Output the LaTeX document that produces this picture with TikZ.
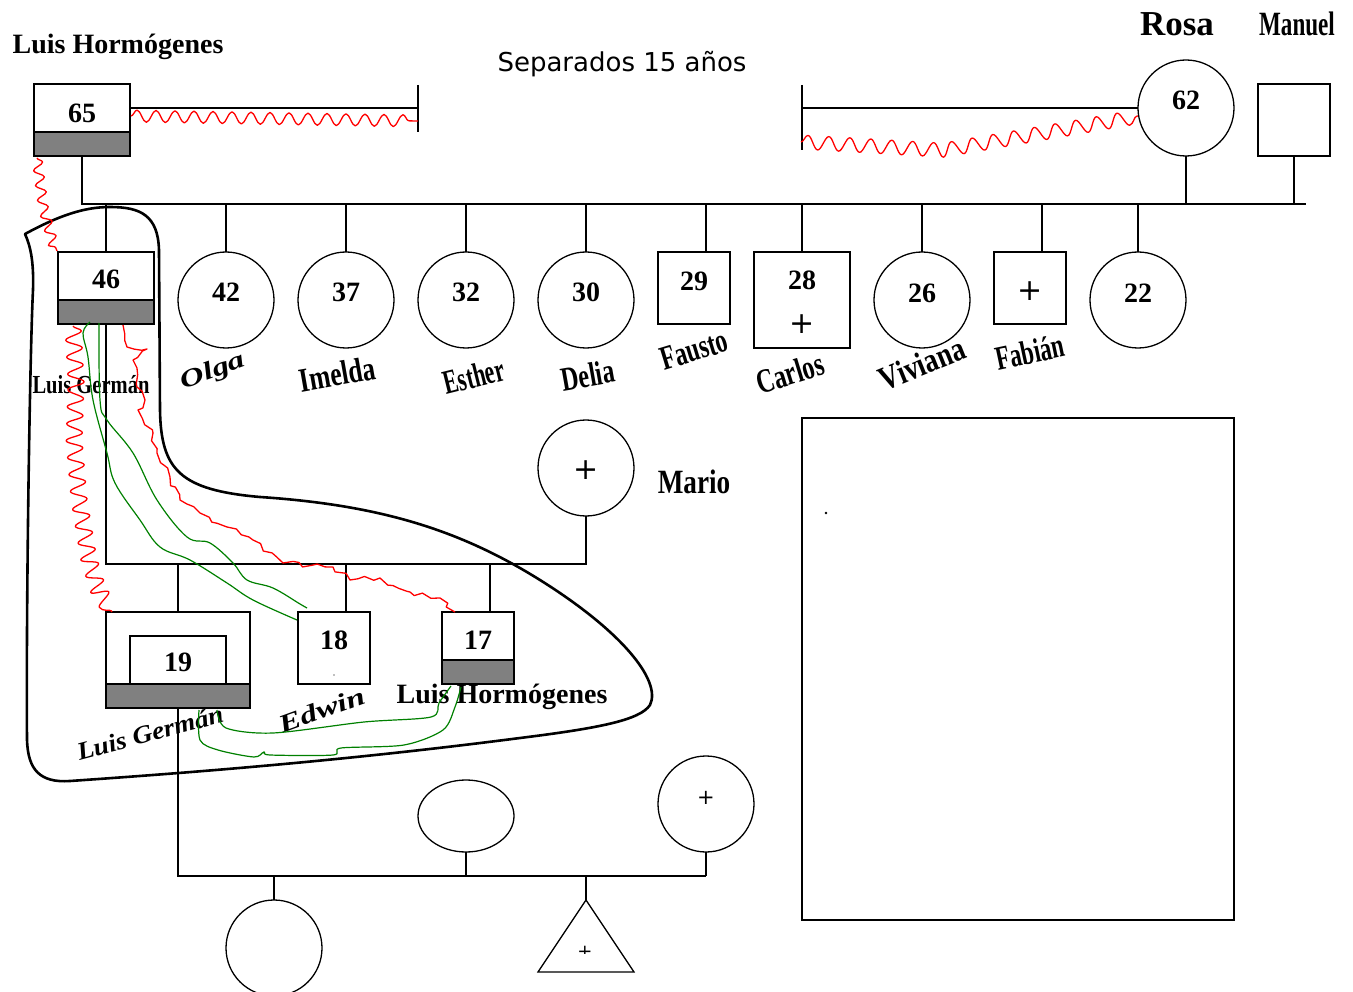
\documentclass[tikz,border=0pt]{standalone}
\usepackage{fontspec}
\setmainfont{Liberation Serif}
\newfontfamily\sansf{DejaVu Sans}
\usetikzlibrary{shapes.geometric,decorations.pathmorphing}
\begin{document}
\begin{tikzpicture}[x=1pt,y=-1pt,
  ln/.style={line width=1.3pt},
  box/.style={draw, line width=1.3pt, rectangle, inner sep=0pt, outer sep=0pt},
  circ/.style={draw, line width=1.3pt, circle, inner sep=0pt, outer sep=0pt, minimum size=96pt},
  num/.style={font=\fontsize{28}{30}\selectfont\bfseries, inner sep=0pt},
  pl/.style={font=\fontsize{30}{32}\selectfont\sansf, inner sep=0pt},
  lbl/.style={font=\fontsize{28}{30}\selectfont\bfseries, inner sep=0pt, anchor=base},
  wa/.style={font=\fontsize{34}{36}\selectfont\bfseries, inner sep=0pt},
  wd/.style={font=\fontsize{25}{27}\selectfont\bfseries\itshape, inner sep=0pt},
  grayfill/.style={fill=gray, draw, line width=1.3pt},
  rline/.style={red, line width=1.3pt, line join=round, decorate, decoration={random steps, segment length=7pt, amplitude=3.5pt}},
  rwave/.style={red, line width=1.3pt, line join=round, decorate, decoration={snake, segment length=19pt, amplitude=6pt}},
  gline/.style={green!50!black, line width=1.2pt}
]
\pgfmathsetseed{11}
\useasboundingbox (0,0) rectangle (1353,992);

% ---------- top generation ----------
\node[box, minimum width=96pt, minimum height=72pt] (b65) at (82,120) {};
\draw[grayfill] (b65.south west) rectangle ([yshift=24pt]b65.south east);
\node[num] (t65) at (82,113) {65};
\node[lbl] (nLH) at (118,54) {Luis Hormógenes};

\node[circ] (c62) at (1186,108) {};
\node[num] (t62) at (1186,100) {62};
\node[box, minimum width=72pt, minimum height=72pt] (bM) at (1294,120) {};
\node[font=\fontsize{35}{36}\selectfont\bfseries, inner sep=0pt, anchor=base] (nRosa) at (1177,36) {Rosa};
\node[wa, anchor=base, xscale=0.68] (nManuel) at (1297,36) {Manuel};

\node[font=\fontsize{26}{28}\selectfont\sansf, inner sep=0pt, anchor=base] (sep) at (622,72) {Separados 15 años};

% separation lines
\coordinate (tickL) at (418,108);
\coordinate (tickR) at (802,108);
\draw[ln] (b65.east |- tickL) -- (tickL);
\draw[ln] (418,85) -- (418,132);
\draw[ln] (802,85) -- (802,150);
\draw[ln] (tickR) -- (c62.west);

% sibship line
\coordinate (sib) at (82,204);
\draw[ln] (b65.south) -- (sib) -- (1306,204);
\draw[ln] (c62.south) -- (c62.south |- sib);
\draw[ln] (bM.south) -- (bM.south |- sib);

% ---------- children ----------
\node[box, minimum width=96pt, minimum height=72pt] (b46) at (106,288) {};
\draw[grayfill] (b46.south west) rectangle ([yshift=24pt]b46.south east);
\node[num] (t46) at (106,279) {46};

\node[circ] (c42) at (226,300) {};
\node[circ] (c37) at (346,300) {};
\node[circ] (c32) at (466,300) {};
\node[circ] (c30) at (586,300) {};
\node[num] at (226,292) {42};
\node[num] at (346,292) {37};
\node[num] at (466,292) {32};
\node[num] at (586,292) {30};

\node[box, minimum width=72pt, minimum height=72pt] (b29) at (694,288) {};
\node[num] at (694,281) {29};
\node[box, minimum width=96pt, minimum height=96pt] (b28) at (802,300) {};
\node[num] at (802,280) {28};
\node[pl] at (802,324) {+};
\node[circ] (c26) at (922,300) {};
\node[num] at (922,293) {26};
\node[box, minimum width=72pt, minimum height=72pt] (bF) at (1030,288) {};
\node[pl] at (1030,291) {+};
\node[circ] (c22) at (1138,300) {};
\node[num] at (1138,293) {22};

\foreach \n in {b46,c42,c37,c32,c30,b28,c26,c22}
  \draw[ln] (\n.north) -- (\n.north |- sib);
\draw[ln] ([xshift=12pt]b29.north) -- ([xshift=12pt]b29.north |- sib);
\draw[ln] ([xshift=12pt]bF.north) -- ([xshift=12pt]bF.north |- sib);

% names
\node[font=\fontsize{26}{28}\selectfont\bfseries, inner sep=0pt, anchor=base, xscale=0.79] (nLG) at (91,394) {Luis Germán};
\node[wd, rotate=20, xscale=1.35] (nOlga) at (213,372) {Olga};
\node[wa, rotate=10, xscale=0.75] (nImelda) at (337,374) {Imelda};
\node[wa, rotate=14, xscale=0.64] (nEsther) at (474,376) {Esther};
\node[wa, rotate=10, xscale=0.71] (nDelia) at (588,375) {Delia};
\node[wa, rotate=17, xscale=0.70] (nFausto) at (694,350) {Fausto};
\node[wa, rotate=17, xscale=0.72] (nCarlos) at (790,373) {Carlos};
\node[wa, rotate=22, xscale=0.80] (nViviana) at (922,364) {Viviana};
\node[wa, rotate=12, xscale=0.68] (nFabian) at (1030,352) {Fabián};

% ---------- Mario family ----------
\node[circ] (cMario) at (586,468) {};
\node[pl] at (586,470) {+};
\node[wa, anchor=base, xscale=0.8] (nMario) at (694,493) {Mario};
\coordinate (sib2) at (106,564);
\draw[ln] (b46.south) -- (sib2) -- (586,564) -- (cMario.south);

\node[box, minimum width=144pt, minimum height=96pt] (b19) at (178,660) {};
\node[box, minimum width=96pt, minimum height=48pt] (b19i) at (178,660) {};
\draw[grayfill] (b19.south west) rectangle ([yshift=24pt]b19.south east);
\node[num] at (178,662) {19};
\node[box, minimum width=72pt, minimum height=72pt] (b18) at (334,648) {};
\node[num] at (334,640) {18};
\fill[gray] (334,675) circle (0.8pt);
\node[box, minimum width=72pt, minimum height=72pt] (b17) at (478,648) {};
\draw[grayfill] (b17.south west) rectangle ([yshift=24pt]b17.south east);
\node[num] at (478,640) {17};

\draw[ln] (b19.north) -- (b19.north |- sib2);
\draw[ln] ([xshift=12pt]b18.north) -- ([xshift=12pt]b18.north |- sib2);
\draw[ln] ([xshift=12pt]b17.north) -- ([xshift=12pt]b17.north |- sib2);

\node[wd, rotate=15, xscale=1.1] (nLG2) at (150,733) {Luis Germán};
\node[wd, rotate=20, xscale=1.35] (nEdwin) at (322,710) {Edwin};
\node[lbl] (nLH2) at (502,703) {Luis Hormógenes};

% ---------- bottom generation ----------
\node[draw, ellipse, line width=1.3pt, inner sep=0pt, outer sep=0pt, minimum width=96pt, minimum height=72pt] (e1) at (466,816) {};
\node[circ] (cP) at (706,804) {};
\node[font=\fontsize{21}{22}\selectfont\sansf, inner sep=0pt] at (706,798) {+};
\coordinate (sib3) at (178,876);
\draw[ln] (b19.south) -- (sib3) -- (706,876);
\draw[ln] (e1.south) -- (e1.south |- sib3);
\draw[ln] (cP.south) -- (cP.south |- sib3);
\node[circ] (cB) at (274,948) {};
\draw[ln] (cB.north) -- (cB.north |- sib3);
\coordinate (tri) at (586,900);
\draw[ln] (tri) -- (634,972) -- (538,972) -- cycle;
\draw[ln] (tri) -- (tri |- sib3);
\begin{scope}
  \clip (570,935) rectangle (600,953.5);
  \node[font=\fontsize{18}{18}\selectfont\sansf, inner sep=0pt] at (585,952) {+};
\end{scope}

% right rectangle
\node[box, minimum width=432pt, minimum height=502pt] (rb) at (1018,669) {};
\fill (826,513) circle (1.3pt);

% ---------- enclosure ----------
\draw[line width=2.6pt, line join=round]
  (25,234) .. controls (60,215) and (85,207) .. (110,207)
  .. controls (140,207) and (158,215) .. (159,250)
  -- (160,410)
  .. controls (161,470) and (180,490) .. (260,497)
  .. controls (380,505) and (460,530) .. (540,580)
  .. controls (620,630) and (662,680) .. (650,705)
  .. controls (640,720) and (600,728) .. (520,738)
  .. controls (350,760) and (200,772) .. (70,781)
  .. controls (40,783) and (28,770) .. (27,740)
  .. controls (26,600) and (30,350) .. (33,290)
  .. controls (34,260) and (30,245) .. (25,234) -- cycle;

% ---------- red squiggles ----------
\draw[rwave] (131,116) -- (300,119) -- (418,121);
\draw[rwave, decoration={amplitude=7pt, segment length=21pt}] (801,142) -- (940,150) -- (1138,116);
\draw[rwave, decoration={amplitude=5pt, segment length=15pt}] (37,158) -- (43,205) -- (52,238) -- (57,251);
\draw[rwave, decoration={amplitude=8pt, segment length=17pt}] (73,326) -- (76,380) -- (74,440) -- (79,500) -- (88,555) -- (98,588) -- (112,612);
\draw[rline] (123,325) -- (127,347) -- (147,349) -- (133,360) -- (137,387) -- (145,400) -- (138,410) -- (153,433) -- (157,453) -- (170,477) -- (180,500) -- (200,513) -- (227,527) -- (253,540) -- (283,563) -- (333,567) -- (350,580) -- (380,578) -- (410,592) -- (440,598) -- (455,612);

% ---------- green lines ----------
\draw[gline] plot[smooth, tension=0.6] coordinates {(90,322) (83,333) (88,357) (93,400) (107,453) (115,483) (140,520) (160,547) (190,560) (227,583) (253,600) (297,620)};
\draw[gline] plot[smooth, tension=0.6] coordinates {(99,323) (100,400) (107,420) (133,453) (157,500) (187,537) (210,543) (233,563) (247,580) (273,588) (300,604) (307,608)};
\draw[gline] plot[smooth, tension=0.5] coordinates {(217,710) (226,728) (273,733) (364,722) (431,717) (439,703) (451,686)};
\draw[gline] plot[smooth, tension=0.5] coordinates {(199,710) (200,740) (218,750) (254,757) (264,752) (270,755) (333,755) (341,748) (404,745) (443,730) (455,707) (461,687)};

\end{tikzpicture}
\end{document}
